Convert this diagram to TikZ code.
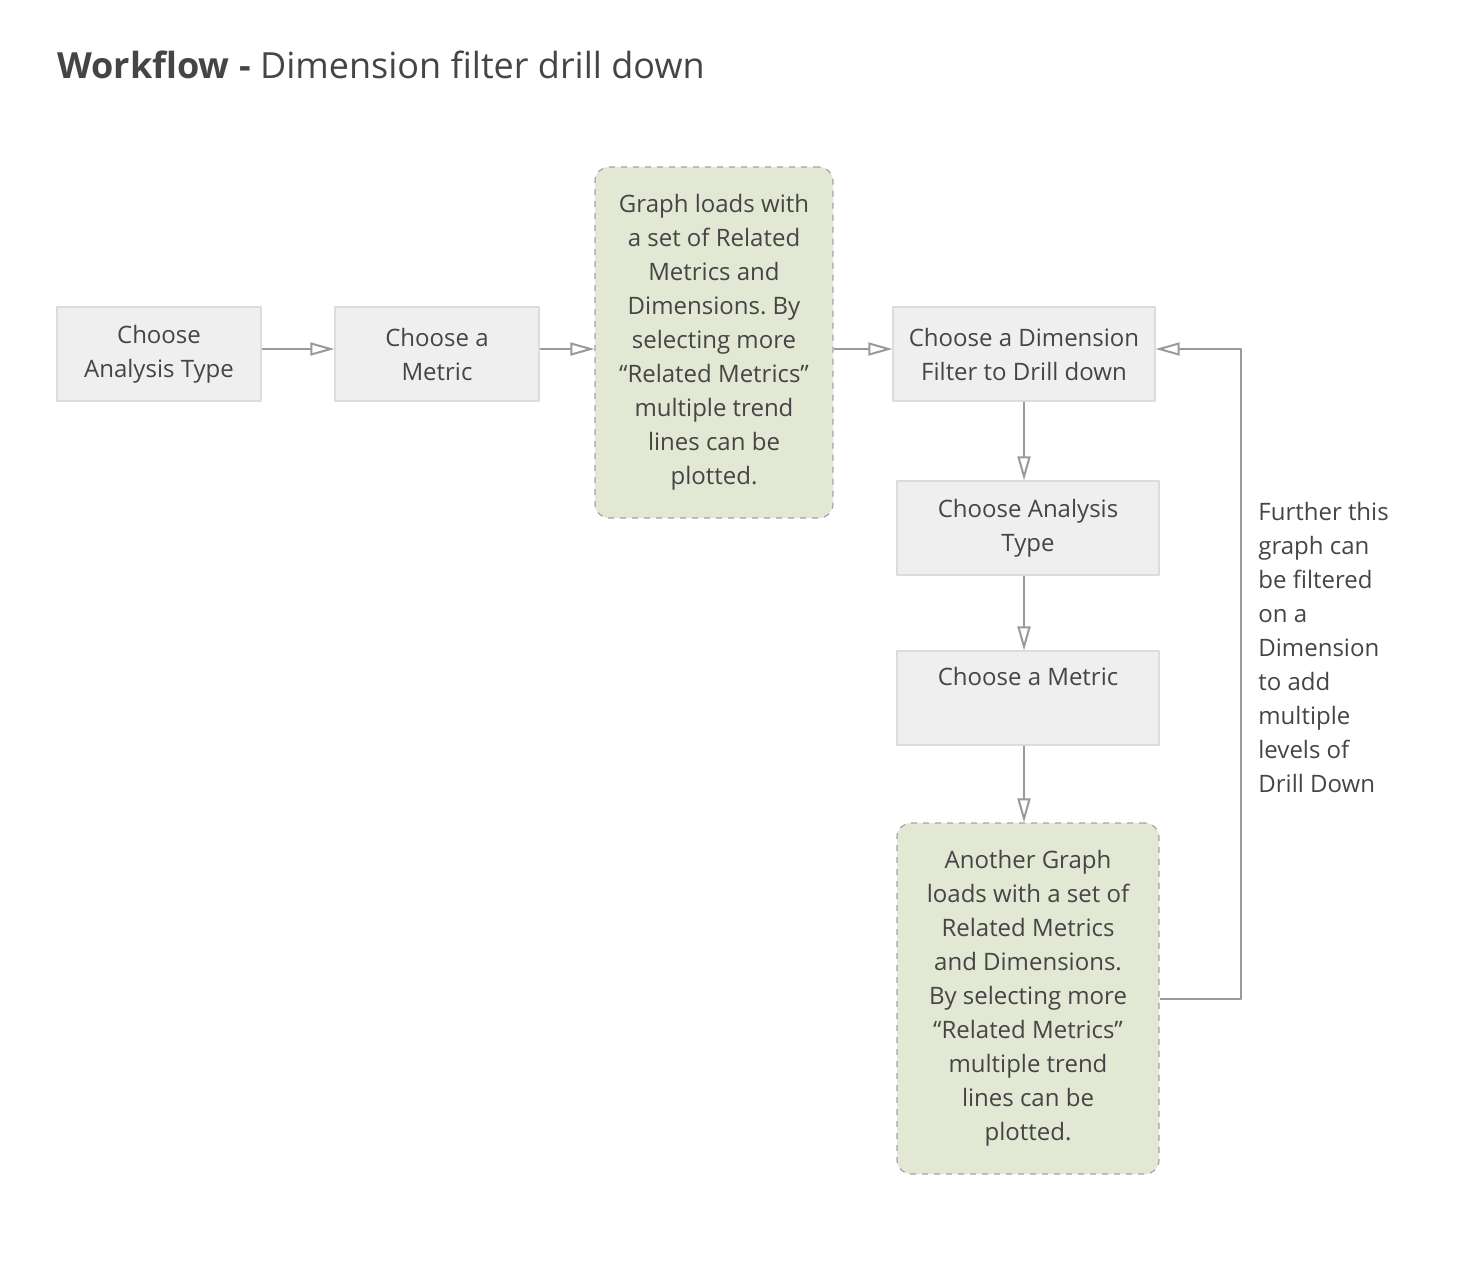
\documentclass[tikz,border=0pt]{standalone}
\usepackage{fontspec}
\setmainfont{Open Sans}
\frenchspacing
\usetikzlibrary{arrows.meta}
\definecolor{boxfill}{HTML}{EFEFEF}
\definecolor{boxline}{HTML}{DCDCDC}
\definecolor{notefill}{HTML}{E2E8D4}
\definecolor{noteline}{HTML}{A3A3A3}
\definecolor{ink}{HTML}{454545}
\definecolor{wire}{HTML}{9A9A9A}

\tikzset{
  stepbox/.style={draw=boxline, fill=boxfill, line width=0.6pt, align=center,
    inner sep=0pt, text=ink, font=\fontsize{12}{17}\selectfont},
  notebox/.style={draw=noteline, fill=notefill, dashed, rounded corners=7pt,
    line width=0.6pt, align=center, inner sep=0pt, text=ink,
    font=\fontsize{12}{17}\selectfont},
  flow/.style={draw=wire, line width=1pt, -{Triangle[open,length=12pt,width=6.5pt]}}
}

\begin{document}
\begin{tikzpicture}[line join=round,x=0.5pt,y=-0.5pt]
\useasboundingbox (0,0) rectangle (1470,1282);
\node[anchor=base west, text=ink, font=\fontsize{18}{22}\selectfont, inner sep=0pt] (title) at (57,78) {\textbf{Workflow -} Dimension filter drill down};
% first row
\node[stepbox, minimum width=102pt, minimum height=47pt] (analysis) at (159,354) {Choose\\Analysis Type};
\node[stepbox, minimum width=102pt, minimum height=47pt] (metric) at (437,354) {Choose a\\Metric};
\node[notebox, minimum width=119pt, minimum height=175.5pt] (graph) at (714,342.5) {Graph loads with\\a set of Related\\Metrics and\\Dimensions. By\\selecting more\\“Related Metrics”\\multiple trend\\lines can be\\plotted.};
\node[stepbox, minimum width=131pt, minimum height=47pt] (dimfilter) at (1024,354) {Choose a Dimension\\Filter to Drill down};
% drill down column
\node[stepbox, minimum width=131pt, minimum height=47pt] (analysis2) at (1028,528) {Choose Analysis\\Type};
\node[stepbox, minimum width=131pt, minimum height=47pt] (metric2) at (1028,698) {Choose a Metric\\\strut};
\node[notebox, minimum width=131pt, minimum height=175.5pt] (graph2) at (1028,998.5) {Another Graph\\loads with a set of\\Related Metrics\\and Dimensions.\\By selecting more\\“Related Metrics”\\multiple trend\\lines can be\\plotted.};
\node[anchor=west, align=left, inner sep=0pt, text=ink, font=\fontsize{12}{17}\selectfont] (furthernote) at (1258,647) {Further this\\graph can\\be filtered\\on a\\Dimension\\to add\\multiple\\levels of\\Drill Down};
% connectors
\draw[flow] ([yshift=2.5pt]analysis.east) -- ([yshift=2.5pt]metric.west);
\draw[flow] ([yshift=2.5pt]metric.east) -- ([yshift=2.5pt]graph.west |- metric.east);
\draw[flow] ([yshift=2.5pt]graph.east |- dimfilter.west) -- ([yshift=2.5pt]dimfilter.west);
\draw[flow] (dimfilter.south) -- (dimfilter.south |- analysis2.north);
\draw[flow] (dimfilter.south |- analysis2.south) -- (dimfilter.south |- metric2.north);
\draw[flow] (dimfilter.south |- metric2.south) -- (dimfilter.south |- graph2.north);
\draw[flow] (graph2.east) -- ++(81,0) |- ([yshift=2.5pt]dimfilter.east);
\end{tikzpicture}
\end{document}
